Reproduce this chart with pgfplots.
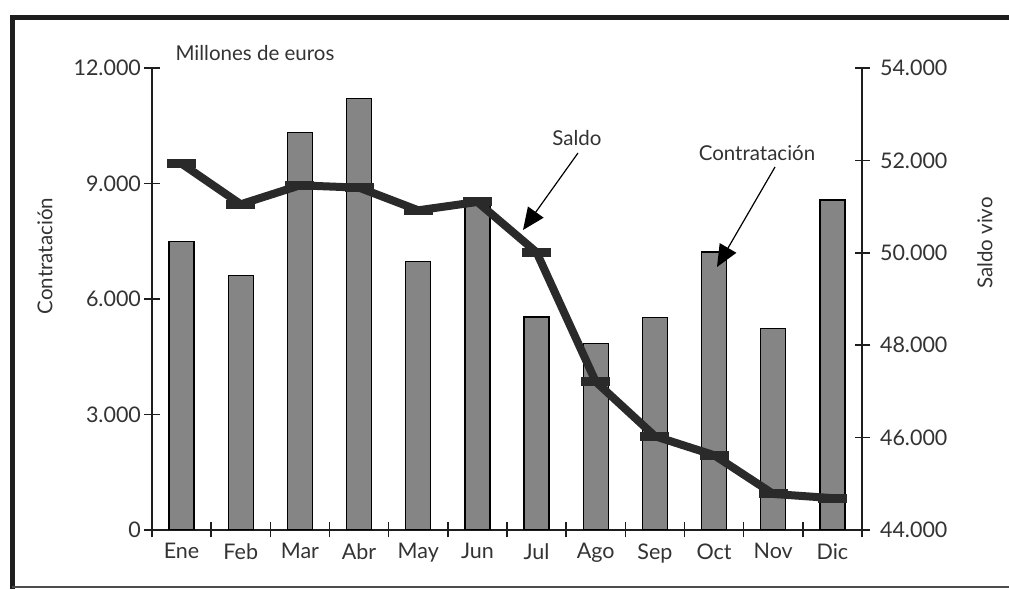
\documentclass[border=0pt]{standalone}
\usepackage{fontspec}
\setmainfont{Lato}
\usepackage{pgfplots}
\pgfplotsset{compat=1.18}
\usetikzlibrary{arrows.meta}
\definecolor{barc}{HTML}{858585}
\definecolor{lnc}{HTML}{2A2A2A}
\definecolor{txt}{HTML}{333333}
\definecolor{axc}{HTML}{1E1E1E}
\newcommand{\fs}{\fontsize{20.5}{24}\selectfont}
\newcommand{\ft}{\fontsize{21.5}{25}\selectfont}
\begin{document}
\begin{tikzpicture}[x=1pt,y=1pt]
\useasboundingbox (0,0) rectangle (1009,589);
\fill[white] (0,0) rectangle (1009,589);
\draw[line width=5pt, axc, line join=miter] (12,0) -- (12,571.5) -- (1009,571.5);
\draw[line width=1.2pt, black!70] (12,2) -- (1009,2);

\pgfplotsset{
  every tick label/.append style={font=\ft, text=txt},
  /pgf/number format/assume math mode=true,
}

\begin{axis}[
  at={(152pt,59pt)}, anchor=south west,
  scale only axis, width=710pt, height=462pt,
  xmin=-0.5, xmax=11.5, ymin=0, ymax=12000,
  axis x line*=bottom, axis y line*=left,
  axis line style={line width=1.5pt, axc, -},
  y axis line style={shorten <=-6pt},
  tick align=center, major tick length=15pt,
  every tick/.style={line width=1.5pt, axc},
  xtick={-0.5,0.5,1.5,2.5,3.5,4.5,5.5,6.5,7.5,8.5,9.5,10.5,11.5},
  xticklabels={,,,,,,,,,,,,,},
  extra x ticks={0,1,2,3,4,5,6,7,8,9,10,11},
  extra x tick labels={Ene,Feb,Mar,Abr,May,Jun,Jul,Ago,Sep,Oct,Nov,Dic},
  extra x tick style={major tick length=0pt, xticklabel style={yshift=-10pt}},
  ytick={0,3000,6000,9000,12000},
  scaled y ticks=false,
  yticklabel style={/pgf/number format/1000 sep={.}},
]
\addplot[ybar, bar width=25pt, fill=barc, draw=black, line width=1.2pt] coordinates {
(0,7500) (1,6600) (2,10320) (3,11200) (4,6980) (5,8550)
(6,5530) (7,4850) (8,5520) (9,7220) (10,5240) (11,8570)
};
\end{axis}

\begin{axis}[
  at={(152pt,59pt)}, anchor=south west,
  scale only axis, width=710pt, height=462pt,
  xmin=-0.5, xmax=11.5, ymin=44000, ymax=54000,
  axis x line=none, axis y line*=right,
  axis line style={line width=1.5pt, axc, -},
  y axis line style={shorten <=-6pt},
  tick align=center, major tick length=15pt,
  every tick/.style={line width=1.5pt, axc},
  ytick={44000,46000,48000,50000,52000,54000},
  scaled y ticks=false,
  yticklabel style={/pgf/number format/1000 sep={.}, xshift=7pt},
]
\addplot[lnc, line width=8pt, line join=round, mark=-, mark size=14.5pt,
  mark options={line width=9pt, solid}] coordinates {
(0,51930) (1,51050) (2,51460) (3,51410) (4,50920) (5,51100)
(6,50010) (7,47210) (8,46030) (9,45620) (10,44780) (11,44690)
};
\end{axis}

\node[font=\fs, text=txt] at (255,536) {Millones de euros};
\node[font=\fs, text=txt, rotate=90] at (45,333) {Contratación};
\node[font=\fs, text=txt, rotate=90] at (985,346) {Saldo vivo};
\node[font=\fs, text=txt] at (577,451) {Saldo};
\node[font=\fs, text=txt] at (757,436) {Contratación};
\draw[line width=1.2pt, black, -{Triangle[length=22pt,width=19pt]}] (578,436) -- (523,359);
\draw[line width=1.2pt, black, -{Triangle[length=22pt,width=19pt]}] (775,422) -- (717,322);
\end{tikzpicture}
\end{document}
